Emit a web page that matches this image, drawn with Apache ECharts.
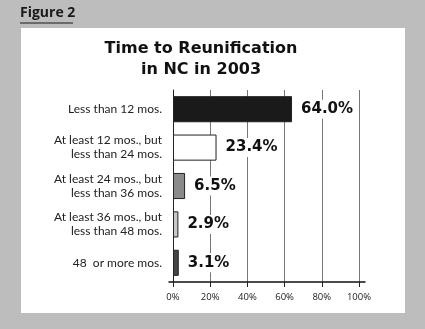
<!DOCTYPE html>
<html>
<head>
<meta charset="utf-8">
<script src="https://cdn.jsdelivr.net/npm/echarts@6/dist/echarts.min.js"></script>
<style>
  html, body { margin: 0; padding: 0; background: #bdbdbd; }
  #chart { width: 425px; height: 329px; }
</style>
</head>
<body>
<div id="chart"></div>
<script>
// Time to reunification, North Carolina, 2003 (percent of reunified children)
const categories = [
  'Less than 12 mos.',
  'At least 12 mos., but\nless than 24 mos.',
  'At least 24 mos., but\nless than 36 mos.',
  'At least 36 mos., but\nless than 48 mos.',
  '48  or more mos.'
];
const values = [64.0, 23.4, 6.5, 2.9, 3.1];
const barColors = ['#1a1a1a', '#ffffff', '#8a8a8a', '#c8c8c8', '#454545'];
const xTicks = [0, 20, 40, 60, 80, 100];

const chart = echarts.init(document.getElementById('chart'));

chart.setOption({
  backgroundColor: '#bdbdbd',
  animation: false,
  graphic: [
    { type: 'rect', shape: { x: 21, y: 28, width: 384, height: 285 }, style: { fill: '#ffffff' }, z: -10 },
    { type: 'text', left: 20, top: 6, style: { text: 'Figure 2', font: 'bold 14px "Open Sans"', fill: '#1a1a1a' } },
    { type: 'line', shape: { x1: 20, y1: 23, x2: 73, y2: 23 }, style: { stroke: '#1a1a1a', lineWidth: 1 } },
    {
      type: 'text', x: 201, y: 38,
      style: {
        text: 'Time to Reunification\nin NC in 2003',
        align: 'center', verticalAlign: 'top',
        font: 'bold 16px "DejaVu Sans"', lineHeight: 21, fill: '#111'
      }
    }
  ],
  grid: [
    { left: 173, right: 66, top: 90, bottom: 47 },
    { left: 169, right: 60, top: 90, bottom: 47 }
  ],
  xAxis: [
    {
      gridIndex: 0,
      type: 'value', min: 0, max: 100, interval: 20,
      axisLine: { show: false },
      axisTick: { show: true, length: 5, lineStyle: { color: '#222', width: 1 } },
      splitLine: { show: true, lineStyle: { color: '#777', width: 1 } },
      axisLabel: {
        margin: 10,
        fontFamily: 'Open Sans', fontSize: 9.5, color: '#222',
        formatter: v => xTicks.includes(v) ? v + '%' : ''
      }
    },
    {
      gridIndex: 1,
      type: 'value', min: 0, max: 1,
      axisLine: { show: true, lineStyle: { color: '#111', width: 1.5 } },
      axisTick: { show: false },
      axisLabel: { show: false },
      splitLine: { show: false }
    }
  ],
  yAxis: [
    {
      gridIndex: 0,
      type: 'category', inverse: true, data: categories,
      axisLine: { show: true, lineStyle: { color: '#222', width: 1 } },
      axisTick: { show: false },
      axisLabel: {
        margin: 11, align: 'right',
        fontFamily: 'Lato', fontSize: 12, lineHeight: 14, color: '#222'
      }
    },
    {
      gridIndex: 1,
      type: 'category', data: categories, show: false
    }
  ],
  series: [{
    type: 'bar',
    xAxisIndex: 0, yAxisIndex: 0,
    barCategoryGap: '32%',
    data: values.map((v, i) => ({
      value: v,
      itemStyle: { color: barColors[i], borderColor: '#222', borderWidth: 1 }
    })),
    label: {
      show: true, position: 'right', distance: 7,
      formatter: p => p.value.toFixed(1) + '%',
      fontFamily: 'DejaVu Sans', fontWeight: 'bold', fontSize: 15, color: '#111',
      backgroundColor: '#ffffff', padding: [2, 2]
    }
  }]
});
</script>
</body>
</html>
